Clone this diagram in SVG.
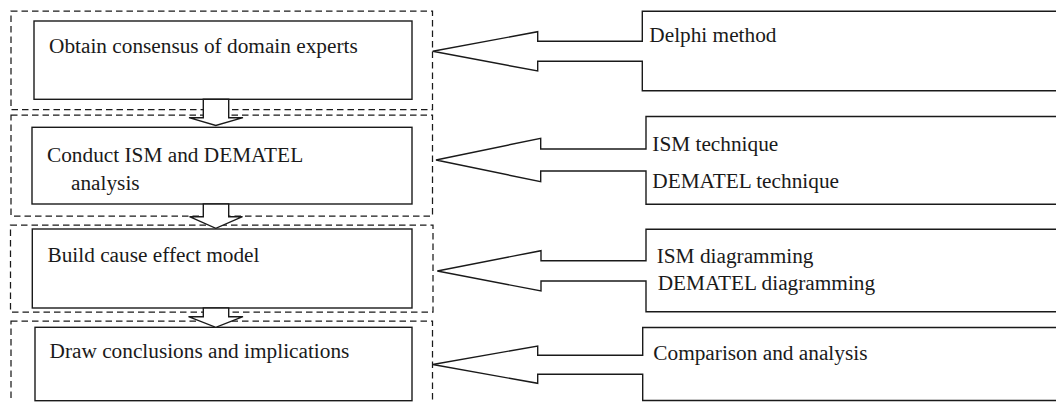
<svg xmlns="http://www.w3.org/2000/svg" width="1056" height="402" viewBox="0 0 1056 402">
<style>
.dash{fill:none;stroke:#1a1a1a;stroke-width:1.25;stroke-dasharray:6.5 4}
.box{fill:#fff;stroke:#1a1a1a;stroke-width:1.4}
.arr{fill:#fff;stroke:#1a1a1a;stroke-width:1.4;stroke-linejoin:miter}
text{font-family:"Liberation Serif","Times New Roman",serif;font-size:21.3px;fill:#1a1a1a}
</style>
<rect width="1056" height="402" fill="#fff"/>
<g id="stage1">
<rect class="dash" x="11" y="11" width="421.5" height="98.5"/>
<rect class="box" x="34" y="21" width="378" height="78.3"/>
<text x="49" y="53.3">Obtain consensus of domain experts</text>
</g>
<g id="stage2">
<rect class="dash" x="11" y="115" width="421.5" height="101"/>
<rect class="box" x="32" y="127.3" width="380" height="76.7"/>
<text x="47" y="161.7">Conduct ISM and DEMATEL</text>
<text x="71" y="190">analysis</text>
</g>
<g id="stage3">
<rect class="dash" x="10.5" y="225" width="422.5" height="87"/>
<rect class="box" x="32.3" y="229" width="379.7" height="79"/>
<text x="47.5" y="262.3">Build cause effect model</text>
</g>
<g id="stage4">
<rect class="dash" x="11" y="321" width="421.5" height="100"/>
<rect class="box" x="35" y="327.3" width="377" height="73.4"/>
<text x="49.5" y="358.3">Draw conclusions and implications</text>
</g>
<g id="connectors">
<polygon class="arr" points="203.3,99.3 228.7,99.3 228.7,117.7 243,117.7 215.8,125.5 189,117.7 203.3,117.7"/>
<polygon class="arr" points="203.3,204 228.7,204 228.7,216.7 242.5,216.7 215.8,228.3 189.5,216.7 203.3,216.7"/>
<polygon class="arr" points="203.3,308 228.7,308 228.7,316.7 243,316.7 215.8,327.3 188.5,316.7 203.3,316.7"/>
</g>
<g id="delphi">
<polygon class="arr" points="1062,11.3 642.3,11.3 642.3,41.3 537.7,41.3 537.7,31.7 432.7,51.3 537.7,71 537.7,61.3 642.3,61.3 642.3,90.7 1062,90.7"/>
<text x="649.3" y="41.7">Delphi method</text>
</g>
<g id="techniques">
<polygon class="arr" points="1062,116.5 646,116.5 646,149 540.7,149 540.7,138.3 436,160 540.7,181.7 540.7,171 646,171 646,204.3 1062,204.3"/>
<text x="652.3" y="150.7">ISM technique</text>
<text x="652.3" y="188.3">DEMATEL technique</text>
</g>
<g id="diagramming">
<polygon class="arr" points="1062,229.3 646,229.3 646,260.7 541,260.7 541,250.7 437.3,271 541,291 541,281 646,281 646,311.7 1062,311.7"/>
<text x="656.7" y="263.3">ISM diagramming</text>
<text x="657.7" y="290">DEMATEL diagramming</text>
</g>
<g id="comparison">
<polygon class="arr" points="1062,327.5 642.7,327.5 642.7,355.3 537.7,355.3 537.7,346 432.7,364.5 537.7,383.3 537.7,374.3 642.7,374.3 642.7,400.5 1062,400.5"/>
<text x="653.3" y="360">Comparison and analysis</text>
</g>
</svg>
